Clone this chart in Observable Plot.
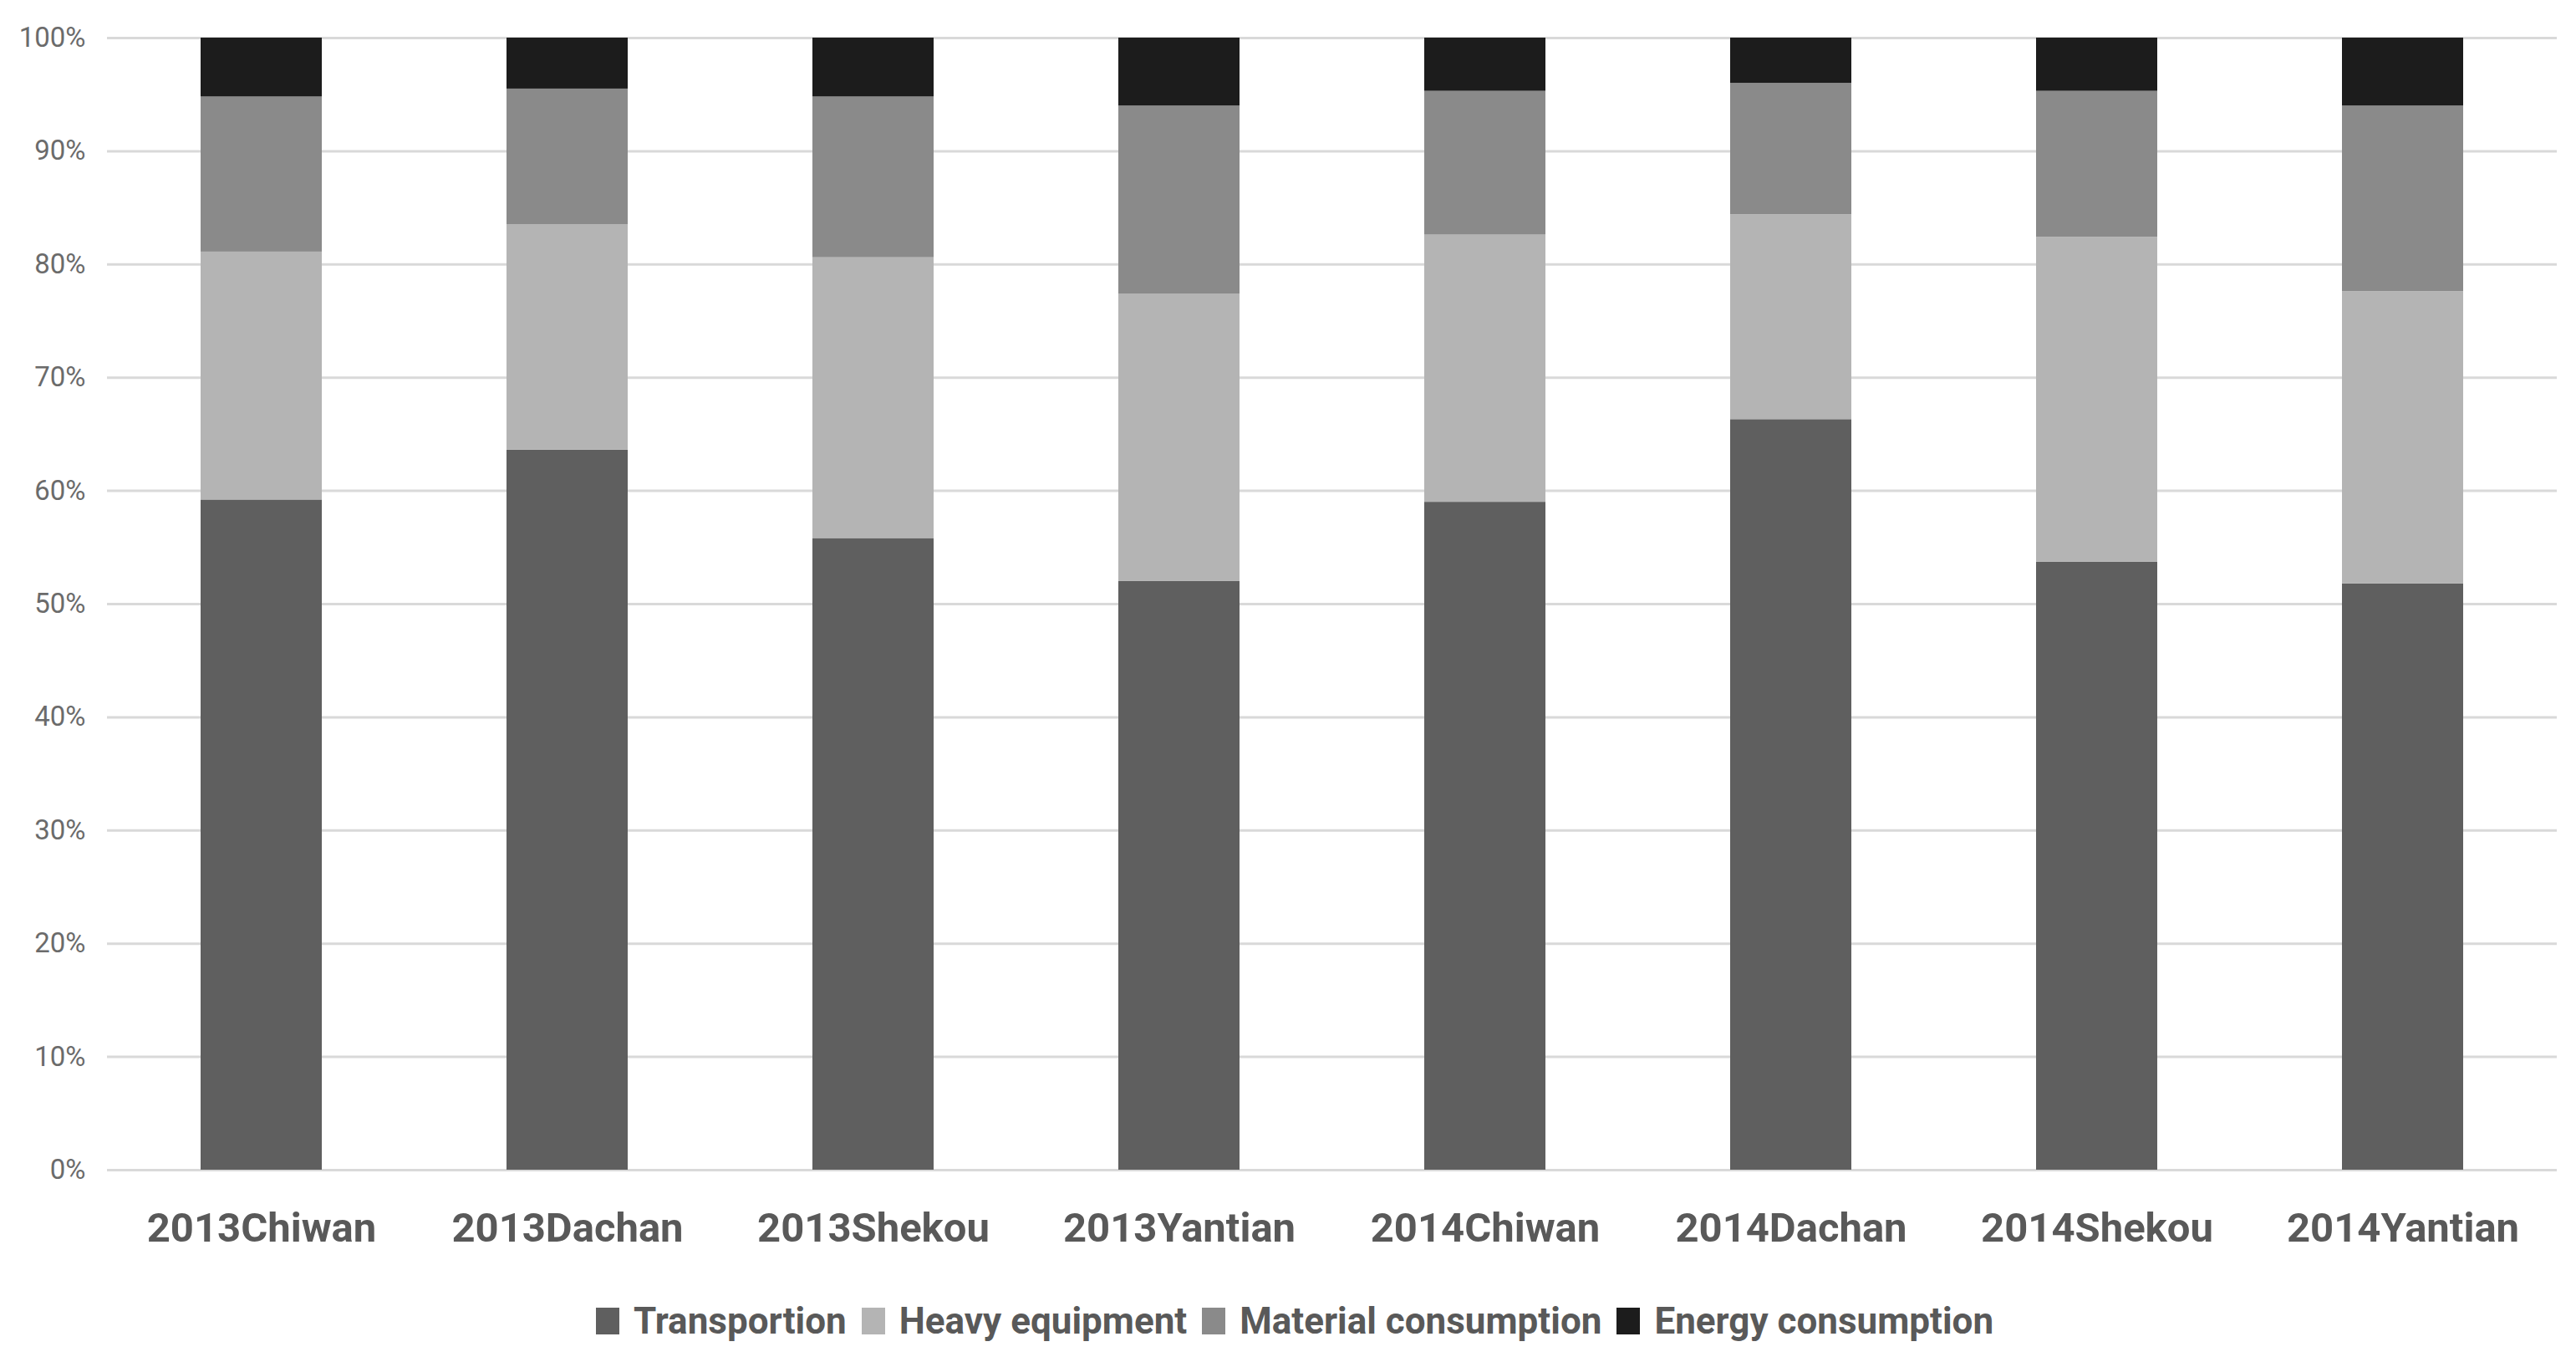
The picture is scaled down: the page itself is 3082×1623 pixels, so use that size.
<!DOCTYPE html>
<html>
<head>
<meta charset="utf-8">
<script src="https://cdn.jsdelivr.net/npm/d3@7"></script>
<script src="https://cdn.jsdelivr.net/npm/@observablehq/plot@0.6"></script>
<style>
  html, body { margin: 0; padding: 0; background: #fff; }
  #chart svg { display: block; }
  #legend {
    display: flex; justify-content: center; align-items: center;
    font-family: Roboto, "DejaVu Sans", sans-serif; font-weight: bold;
    font-size: 44px; color: #595959; height: 99px; padding-left: 34px;
  }
  #legend .item { display: flex; align-items: center; margin-right: 18px; }
  #legend .sw { width: 28px; height: 32px; margin-right: 17px; }
</style>
</head>
<body>
<div id="chart"></div>
<div id="legend"></div>
<script>
const categories = ["2013Chiwan","2013Dachan","2013Shekou","2013Yantian","2014Chiwan","2014Dachan","2014Shekou","2014Yantian"];
const seriesNames = ["Transportion","Heavy equipment","Material consumption","Energy consumption"];
const seriesColors = ["#5f5f5f","#b4b4b4","#8a8a8a","#1c1c1c"];
const transportion = [59.2, 63.6, 55.8, 52.0, 59.0, 66.3, 53.7, 51.8];
const heavyEquipment = [21.9, 19.9, 24.8, 25.4, 23.6, 18.1, 28.7, 25.8];
const materialConsumption = [13.7, 12.0, 14.2, 16.6, 12.7, 11.6, 12.9, 16.4];
const energyConsumption = [5.2, 4.5, 5.2, 6.0, 4.7, 4.0, 4.7, 6.0];
const yTicks = [0,10,20,30,40,50,60,70,80,90,100];

const seriesValues = [transportion, heavyEquipment, materialConsumption, energyConsumption];
const rows = [];
seriesNames.forEach((s, si) => {
  categories.forEach((c, ci) => rows.push({category: c, series: s, value: seriesValues[si][ci]}));
});

const chart = Plot.plot({
  width: 3082,
  height: 1530,
  marginTop: 45,
  marginBottom: 131,
  marginLeft: 128,
  marginRight: 23,
  style: {fontFamily: "Roboto, 'DejaVu Sans', sans-serif", background: "#fff"},
  x: {type: "band", domain: categories, paddingInner: 0.605, paddingOuter: 0.3025, label: null},
  y: {domain: [0, 100], label: null},
  color: {domain: seriesNames, range: seriesColors},
  marks: [
    Plot.gridY(yTicks, {stroke: "#d9d9d9", strokeOpacity: 1, strokeWidth: 3}),
    Plot.barY(rows, {x: "category", y: "value", fill: "series"}),
    Plot.axisY(yTicks, {tickSize: 0, tickPadding: 26, fontSize: 33, fill: "#6b6b6b", tickFormat: d => d + "%", label: null}),
    Plot.axisX({tickSize: 0, tickPadding: 51, fontSize: 49, fontWeight: "bold", fill: "#595959", label: null})
  ]
});
document.getElementById("chart").appendChild(chart);

const legend = document.getElementById("legend");
seriesNames.forEach((s, i) => {
  const item = document.createElement("div");
  item.className = "item";
  const sw = document.createElement("span");
  sw.className = "sw";
  sw.style.background = seriesColors[i];
  const t = document.createElement("span");
  t.textContent = s;
  item.appendChild(sw);
  item.appendChild(t);
  legend.appendChild(item);
});
</script>
</body>
</html>
